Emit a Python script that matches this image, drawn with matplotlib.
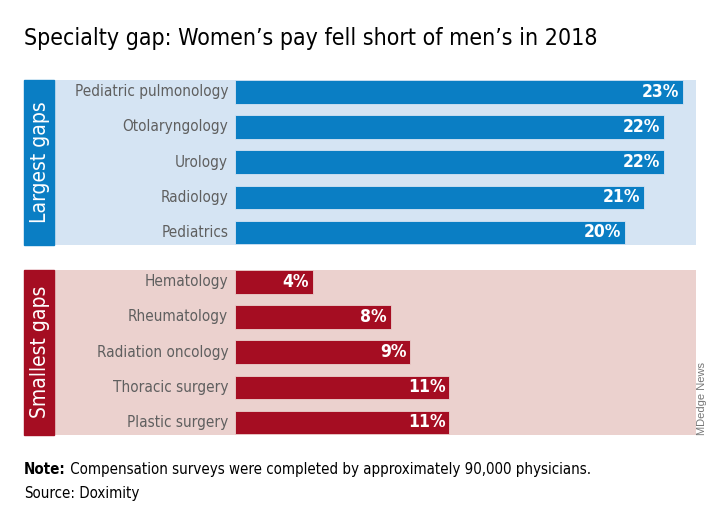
import matplotlib
matplotlib.use("Agg")
import matplotlib.pyplot as plt
from matplotlib.patches import Rectangle

# Datos
largest_labels = ["Pediatric pulmonology", "Otolaryngology", "Urology", "Radiology", "Pediatrics"]
largest_values = [23, 22, 22, 21, 20]
smallest_labels = ["Hematology", "Rheumatology", "Radiation oncology", "Thoracic surgery", "Plastic surgery"]
smallest_values = [4, 8, 9, 11, 11]

title = "Specialty gap: Women\u2019s pay fell short of men\u2019s in 2018"
note = "Compensation surveys were completed by approximately 90,000 physicians."
source = "Doximity"

# fuente condensada (lo mas parecido a la original)
COND = dict(family="DejaVu Sans", fontstretch="condensed")
W, H = 720, 528

fig = plt.figure(figsize=(W / 100, H / 100), dpi=100)


def fx(px):
    return px / W


def fy(py):
    return 1 - py / H


def panel(top, labels, values, dark, light, strip_text):
    # franja lateral con el texto vertical
    fig.patches.append(Rectangle((fx(24), fy(top + 165)), fx(30), 165 / H,
                                 transform=fig.transFigure, color=dark, zorder=0))
    fig.text(fx(40), fy(top + 82), strip_text, rotation=90, color="white",
             ha="center", va="center", fontsize=15, **COND)

    ax = fig.add_axes([fx(54), fy(top + 165), fx(696 - 54), 165 / H])
    ax.set_facecolor(light)
    scale = 19.5  # px por punto porcentual
    ax.set_xlim(-(235 - 54) / scale, (696 - 235) / scale)
    n = len(values)
    bh = 23.5 / 35
    ax.set_ylim(n - 1 + bh / 2 + 0.02, -bh / 2)
    ys = list(range(n))
    ax.barh(ys, values, height=bh, color=dark, edgecolor=light, linewidth=0.6)
    for y, lab, v in zip(ys, labels, values):
        ax.text(-0.35, y, lab, ha="right", va="center", color="#5f5f5f",
                fontsize=11, **COND)
        ax.text(v - 0.2, y, f"{v}%", ha="right", va="center", color="white",
                fontsize=12.5, fontweight="bold", **COND)
    ax.set_xticks([])
    ax.set_yticks([])
    for s in ax.spines.values():
        s.set_visible(False)


panel(80, largest_labels, largest_values, "#0a7ec4", "#d5e4f3", "Largest gaps")
panel(270, smallest_labels, smallest_values, "#a50d22", "#ebd1ce", "Smallest gaps")

fig.text(fx(24), fy(38), title, ha="left", va="center", fontsize=16.6, **COND)

# notas al pie: etiqueta en negrita + texto normal en la misma linea base
renderer = fig.canvas.get_renderer()
for ypx, lead, rest, bold in [(474, "Note:", note, "bold"), (498, "Source:", source, "normal")]:
    t = fig.text(fx(24), fy(ypx), lead, ha="left", va="baseline", fontsize=10.8,
                 fontweight=bold, **COND)
    x1 = t.get_window_extent(renderer).x1 / fig.dpi / fig.get_figwidth()
    fig.text(x1, fy(ypx), " " + rest, ha="left", va="baseline", fontsize=10.8, **COND)

fig.text(fx(702), fy(435), "MDedge News", rotation=90, ha="center", va="bottom",
         color="#777777", fontsize=8, family=["Liberation Sans", "DejaVu Sans"])

fig.savefig("out.png", dpi=100)
